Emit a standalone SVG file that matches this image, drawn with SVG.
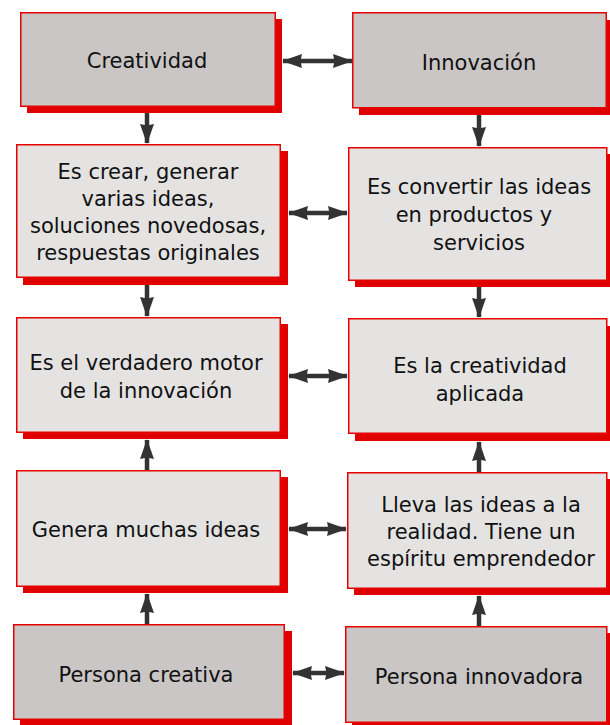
<svg xmlns="http://www.w3.org/2000/svg" width="610" height="725" viewBox="0 0 610 725">
<defs>
<style>
.sh{fill:#e00000}
.bx{stroke:#e60000;stroke-width:1.5}
.dk{fill:#c9c6c5}
.lt{fill:#e4e3e2}
text{font-family:"DejaVu Sans",Verdana,sans-serif;font-size:21px;fill:#111;text-anchor:middle}
.ln{stroke:#333;stroke-width:4.5;fill:none}
</style>
<marker id="ah" markerUnits="userSpaceOnUse" markerWidth="20" markerHeight="14" refX="19" refY="7" orient="auto-start-reverse" viewBox="0 0 20 14">
<path d="M0,0 L20,7 L0,14 L1.5,7 Z" fill="#333"/>
</marker>
</defs>
<rect width="610" height="725" fill="#fff"/>
<g id="connectors">
<line class="ln" x1="147" y1="113" x2="147" y2="143" marker-end="url(#ah)"/>
<line class="ln" x1="479" y1="115" x2="479" y2="146" marker-end="url(#ah)"/>
<line class="ln" x1="147" y1="285" x2="147" y2="316" marker-end="url(#ah)"/>
<line class="ln" x1="479" y1="287" x2="479" y2="317" marker-end="url(#ah)"/>
<line class="ln" x1="147" y1="470" x2="147" y2="440" marker-end="url(#ah)"/>
<line class="ln" x1="479" y1="472" x2="479" y2="442" marker-end="url(#ah)"/>
<line class="ln" x1="147" y1="624" x2="147" y2="594" marker-end="url(#ah)"/>
<line class="ln" x1="479" y1="626" x2="479" y2="596" marker-end="url(#ah)"/>
<line class="ln" x1="283" y1="61" x2="352" y2="61" marker-start="url(#ah)" marker-end="url(#ah)"/>
<line class="ln" x1="289" y1="213" x2="347" y2="213" marker-start="url(#ah)" marker-end="url(#ah)"/>
<line class="ln" x1="289" y1="376" x2="347" y2="376" marker-start="url(#ah)" marker-end="url(#ah)"/>
<line class="ln" x1="289" y1="529" x2="346" y2="529" marker-start="url(#ah)" marker-end="url(#ah)"/>
<line class="ln" x1="293" y1="673" x2="344" y2="673" marker-start="url(#ah)" marker-end="url(#ah)"/>
</g>
<g id="n1">
<rect class="sh" x="27" y="19" width="255" height="94"/>
<rect class="bx dk" x="20.75" y="12.75" width="254.5" height="93.5"/>
<text x="147" y="68">Creatividad</text>
</g>
<g id="n2">
<rect class="sh" x="359" y="20" width="260" height="95"/>
<rect class="bx dk" x="352.75" y="12.75" width="253.5" height="95"/>
<text x="479" y="70">Innovación</text>
</g>
<g id="n3">
<rect class="sh" x="23" y="151" width="265" height="134"/>
<rect class="bx lt" x="16.75" y="144.75" width="263.5" height="132.5"/>
<text x="148" y="179">Es crear, generar</text>
<text x="148" y="206">varias ideas,</text>
<text x="148" y="233">soluciones novedosas,</text>
<text x="148" y="260">respuestas originales</text>
</g>
<g id="n4">
<rect class="sh" x="355" y="154" width="260" height="133"/>
<rect class="bx lt" x="348.75" y="147.75" width="258" height="132.5"/>
<text x="479" y="194">Es convertir las ideas</text>
<text x="474" y="222">en productos y</text>
<text x="479" y="250">servicios</text>
</g>
<g id="n5">
<rect class="sh" x="23" y="324" width="265" height="115"/>
<rect class="bx lt" x="16.75" y="317.75" width="263.5" height="114.5"/>
<text x="146" y="370">Es el verdadero motor</text>
<text x="146" y="398">de la innovación</text>
</g>
<g id="n6">
<rect class="sh" x="355" y="326" width="260" height="115"/>
<rect class="bx lt" x="348.75" y="318.75" width="258" height="114.5"/>
<text x="480" y="373">Es la creatividad</text>
<text x="480" y="401">aplicada</text>
</g>
<g id="n7">
<rect class="sh" x="23" y="477" width="265" height="116"/>
<rect class="bx lt" x="16.75" y="470.75" width="263.5" height="115.5"/>
<text x="146" y="537">Genera muchas ideas</text>
</g>
<g id="n8">
<rect class="sh" x="354" y="479" width="260" height="116"/>
<rect class="bx lt" x="347.75" y="472.75" width="259" height="115.5"/>
<text x="481" y="512">Lleva las ideas a la</text>
<text x="481" y="539">realidad. Tiene un</text>
<text x="481" y="566">espíritu emprendedor</text>
</g>
<g id="n9">
<rect class="sh" x="20" y="631" width="272" height="94"/>
<rect class="bx dk" x="13.75" y="624.75" width="270.5" height="94.5"/>
<text x="146" y="682">Persona creativa</text>
</g>
<g id="n10">
<rect class="sh" x="352" y="633" width="265" height="95"/>
<rect class="bx dk" x="345.75" y="626.75" width="261" height="95.5"/>
<text x="479" y="684">Persona innovadora</text>
</g>
</svg>
